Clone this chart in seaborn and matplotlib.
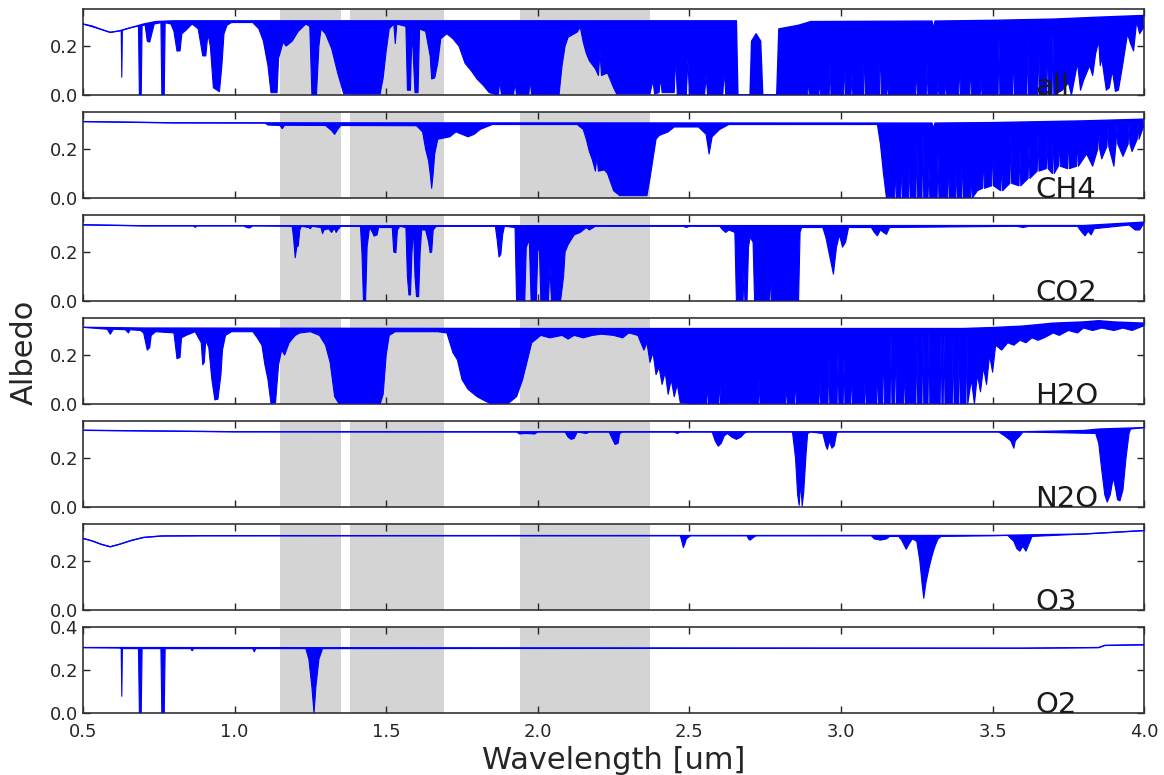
import matplotlib
matplotlib.use('Agg')
import matplotlib.pyplot as plt
import seaborn as sns
from matplotlib.ticker import FormatStrFormatter

# panel names, top to bottom
gases = ['all', 'CH4', 'CO2', 'H2O', 'N2O', 'O3', 'O2']

# grey wavelength windows [um]
bands = [(1.15, 1.35), (1.38, 1.69), (1.94, 2.37)]

xticks = [0.5, 1.0, 1.5, 2.0, 2.5, 3.0, 3.5, 4.0]

# spectra as (wavelength, albedo):
# *_up = upper envelope (top of the blue), *_lo = lower envelope (bottom of the blue)

all_up = [(0.50, 0.290), (0.53, 0.282), (0.56, 0.268), (0.59, 0.256), (0.62, 0.262), (0.66, 0.276),
          (0.70, 0.290), (0.74, 0.300), (0.80, 0.303), (2.655, 0.303), (2.66, 0.0), (2.70, 0.0),
          (2.705, 0.22), (2.72, 0.25), (2.735, 0.22), (2.742, 0.0), (2.788, 0.0), (2.795, 0.27),
          (2.86, 0.285), (2.90, 0.300), (3.30, 0.302), (3.305, 0.27), (3.31, 0.302), (3.50, 0.305),
          (3.70, 0.310), (3.85, 0.318), (4.00, 0.325)]
all_lo = [(0.50, 0.290), (0.56, 0.268), (0.59, 0.256), (0.62, 0.262), (0.626, 0.264), (0.628, 0.073),
          (0.630, 0.265), (0.66, 0.276), (0.683, 0.282), (0.686, 0.0), (0.692, 0.0), (0.695, 0.284),
          (0.705, 0.285), (0.712, 0.22), (0.72, 0.216), (0.726, 0.245), (0.735, 0.29), (0.757, 0.295),
          (0.760, 0.0), (0.768, 0.0), (0.771, 0.295), (0.79, 0.29), (0.80, 0.26), (0.81, 0.18),
          (0.82, 0.18), (0.826, 0.25), (0.84, 0.265), (0.86, 0.29), (0.88, 0.27), (0.895, 0.16),
          (0.905, 0.16), (0.912, 0.25), (0.92, 0.20), (0.93, 0.03), (0.95, 0.014), (0.958, 0.12),
          (0.965, 0.25), (0.975, 0.285), (0.99, 0.296), (1.06, 0.296), (1.08, 0.27), (1.095, 0.22),
          (1.11, 0.12), (1.12, 0.01), (1.14, 0.01), (1.145, 0.15), (1.16, 0.216), (1.17, 0.20),
          (1.19, 0.22), (1.21, 0.26), (1.235, 0.29), (1.248, 0.28), (1.255, 0.0), (1.27, 0.0),
          (1.278, 0.2), (1.285, 0.27), (1.30, 0.25), (1.32, 0.19), (1.34, 0.09), (1.36, 0.005),
          (1.48, 0.005), (1.49, 0.07), (1.50, 0.18), (1.51, 0.27), (1.525, 0.29), (1.53, 0.21),
          (1.535, 0.29), (1.565, 0.28), (1.57, 0.02), (1.58, 0.02), (1.585, 0.27), (1.595, 0.01),
          (1.605, 0.01), (1.61, 0.27), (1.63, 0.26), (1.645, 0.16), (1.65, 0.066), (1.66, 0.07),
          (1.67, 0.13), (1.68, 0.23), (1.70, 0.25), (1.72, 0.23), (1.74, 0.20), (1.76, 0.13),
          (1.78, 0.10), (1.80, 0.065), (1.82, 0.04), (1.84, 0.01), (1.87, 0.0), (1.875, 0.06),
          (1.88, 0.0), (1.92, 0.0), (1.925, 0.05), (1.93, 0.0), (1.97, 0.0), (1.975, 0.06),
          (1.98, 0.0), (2.07, 0.0), (2.08, 0.12), (2.09, 0.20), (2.10, 0.236), (2.13, 0.257),
          (2.14, 0.278), (2.15, 0.215), (2.16, 0.17), (2.17, 0.14), (2.19, 0.107), (2.20, 0.08),
          (2.205, 0.18), (2.21, 0.08), (2.23, 0.09), (2.25, 0.03), (2.26, 0.005), (2.37, 0.005),
          (2.38, 0.06), (2.385, 0.005), (2.40, 0.01), (2.405, 0.07), (2.41, 0.01), (2.45, 0.01),
          (2.455, 0.16), (2.46, 0.0), (2.49, 0.0), (2.495, 0.15), (2.50, 0.0), (2.55, 0.0),
          (2.555, 0.08), (2.56, 0.0), (2.61, 0.0), (2.615, 0.10), (2.62, 0.0), (2.89, 0.0),
          (2.893, 0.078), (2.896, 0.0), (2.926, 0.0), (2.929, 0.065), (2.932, 0.0), (2.961, 0.0),
          (2.964, 0.13), (2.967, 0.0), (3.009, 0.0), (3.012, 0.16), (3.015, 0.0), (3.033, 0.0),
          (3.036, 0.09), (3.039, 0.0), (3.074, 0.0), (3.077, 0.227), (3.080, 0.0), (3.127, 0.0),
          (3.130, 0.267), (3.133, 0.0), (3.151, 0.0), (3.154, 0.065), (3.157, 0.0), (3.246, 0.0),
          (3.249, 0.13), (3.252, 0.0), (3.281, 0.0), (3.284, 0.13), (3.287, 0.0), (3.317, 0.0),
          (3.320, 0.05), (3.323, 0.0), (3.341, 0.0), (3.344, 0.065), (3.347, 0.0), (3.388, 0.0),
          (3.391, 0.16), (3.394, 0.0), (3.424, 0.0), (3.427, 0.153), (3.430, 0.0), (3.459, 0.0),
          (3.462, 0.065), (3.465, 0.0), (3.518, 0.0), (3.521, 0.24), (3.524, 0.0), (3.566, 0.0),
          (3.569, 0.21), (3.572, 0.0), (3.613, 0.0), (3.616, 0.24), (3.619, 0.0), (3.649, 0.0),
          (3.652, 0.267), (3.655, 0.0), (3.678, 0.0), (3.681, 0.28), (3.684, 0.0), (3.696, 0.0),
          (3.699, 0.254), (3.702, 0.0), (3.73, 0.02), (3.75, 0.05), (3.76, 0.0), (3.78, 0.13),
          (3.79, 0.02), (3.80, 0.06), (3.82, 0.12), (3.83, 0.08), (3.84, 0.17), (3.85, 0.22),
          (3.855, 0.12), (3.86, 0.15), (3.875, 0.02), (3.885, 0.03), (3.895, 0.10), (3.905, 0.015),
          (3.915, 0.02), (3.93, 0.13), (3.945, 0.25), (3.955, 0.21), (3.965, 0.18), (3.975, 0.30),
          (3.985, 0.25), (4.00, 0.28)]

ch4_up = [(0.50, 0.312), (0.80, 0.307), (3.30, 0.306), (3.305, 0.28), (3.31, 0.306), (3.50, 0.308),
          (3.80, 0.315), (4.00, 0.322)]
ch4_lo = [(0.50, 0.312), (0.80, 0.307), (1.10, 0.306), (1.11, 0.298), (1.15, 0.296), (1.157, 0.283),
          (1.165, 0.297), (1.30, 0.296), (1.32, 0.275), (1.33, 0.26), (1.34, 0.28), (1.35, 0.296),
          (1.60, 0.295), (1.62, 0.27), (1.63, 0.20), (1.64, 0.15), (1.645, 0.10), (1.65, 0.04),
          (1.655, 0.10), (1.66, 0.18), (1.67, 0.24), (1.69, 0.245), (1.71, 0.25), (1.73, 0.27),
          (1.75, 0.26), (1.77, 0.25), (1.79, 0.26), (1.81, 0.28), (1.83, 0.29), (1.85, 0.30),
          (2.13, 0.30), (2.15, 0.28), (2.16, 0.24), (2.17, 0.19), (2.18, 0.156), (2.19, 0.11),
          (2.195, 0.17), (2.20, 0.11), (2.22, 0.115), (2.23, 0.10), (2.25, 0.03), (2.27, 0.01),
          (2.36, 0.01), (2.37, 0.08), (2.38, 0.16), (2.39, 0.24), (2.40, 0.255), (2.43, 0.27),
          (2.45, 0.29), (2.53, 0.29), (2.555, 0.26), (2.565, 0.18), (2.575, 0.25), (2.60, 0.28),
          (2.63, 0.30), (3.12, 0.30), (3.13, 0.22), (3.14, 0.10), (3.15, 0.0), (3.177, 0.0),
          (3.18, 0.14), (3.183, 0.0), (3.197, 0.0), (3.20, 0.17), (3.203, 0.0), (3.222, 0.0),
          (3.225, 0.17), (3.228, 0.0), (3.247, 0.0), (3.25, 0.24), (3.253, 0.0), (3.267, 0.0),
          (3.27, 0.26), (3.273, 0.0), (3.287, 0.0), (3.29, 0.13), (3.293, 0.0), (3.317, 0.0),
          (3.32, 0.18), (3.323, 0.0), (3.352, 0.0), (3.355, 0.17), (3.358, 0.0), (3.377, 0.0),
          (3.38, 0.14), (3.383, 0.0), (3.397, 0.0), (3.40, 0.20), (3.403, 0.0), (3.427, 0.0),
          (3.43, 0.10), (3.433, 0.0), (3.45, 0.03), (3.467, 0.04), (3.47, 0.20), (3.473, 0.04),
          (3.497, 0.05), (3.50, 0.24), (3.503, 0.05), (3.527, 0.03), (3.53, 0.15), (3.533, 0.03),
          (3.557, 0.06), (3.56, 0.26), (3.563, 0.06), (3.587, 0.05), (3.59, 0.20), (3.593, 0.05),
          (3.617, 0.08), (3.62, 0.22), (3.623, 0.08), (3.647, 0.11), (3.65, 0.27), (3.653, 0.11),
          (3.677, 0.12), (3.68, 0.24), (3.683, 0.12), (3.697, 0.10), (3.70, 0.28), (3.703, 0.10),
          (3.717, 0.13), (3.72, 0.25), (3.723, 0.13), (3.747, 0.12), (3.75, 0.28), (3.753, 0.12),
          (3.777, 0.13), (3.78, 0.26), (3.783, 0.13), (3.81, 0.18), (3.83, 0.13), (3.847, 0.20),
          (3.85, 0.29), (3.853, 0.20), (3.86, 0.16), (3.877, 0.21), (3.88, 0.29), (3.883, 0.21),
          (3.90, 0.13), (3.907, 0.22), (3.91, 0.30), (3.913, 0.22), (3.93, 0.17), (3.947, 0.22),
          (3.95, 0.30), (3.953, 0.22), (3.96, 0.19), (3.977, 0.24), (3.98, 0.31), (3.983, 0.24),
          (4.00, 0.30)]

co2_up = [(0.50, 0.311), (0.70, 0.307), (3.80, 0.308), (4.00, 0.322)]
co2_lo = [(0.50, 0.311), (0.70, 0.307), (0.865, 0.307), (0.87, 0.300), (0.875, 0.307), (1.03, 0.307),
          (1.04, 0.300), (1.05, 0.298), (1.06, 0.307), (1.19, 0.305), (1.195, 0.25), (1.20, 0.177),
          (1.205, 0.22), (1.21, 0.225), (1.215, 0.29), (1.22, 0.305), (1.245, 0.30), (1.25, 0.295),
          (1.255, 0.305), (1.285, 0.30), (1.29, 0.275), (1.295, 0.29), (1.31, 0.295), (1.32, 0.28),
          (1.325, 0.29), (1.33, 0.295), (1.335, 0.28), (1.34, 0.29), (1.35, 0.305), (1.415, 0.305),
          (1.42, 0.20), (1.425, 0.0), (1.432, 0.0), (1.437, 0.22), (1.445, 0.30), (1.455, 0.28),
          (1.46, 0.265), (1.47, 0.27), (1.475, 0.30), (1.52, 0.30), (1.525, 0.20), (1.532, 0.197),
          (1.537, 0.29), (1.545, 0.305), (1.565, 0.30), (1.57, 0.10), (1.575, 0.025), (1.58, 0.025),
          (1.585, 0.20), (1.59, 0.30), (1.595, 0.10), (1.60, 0.018), (1.607, 0.018), (1.612, 0.20),
          (1.617, 0.29), (1.63, 0.29), (1.64, 0.24), (1.645, 0.197), (1.65, 0.20), (1.655, 0.29),
          (1.665, 0.305), (1.86, 0.305), (1.866, 0.25), (1.872, 0.18), (1.878, 0.19), (1.884, 0.27),
          (1.89, 0.305), (1.925, 0.30), (1.93, 0.0), (1.957, 0.0), (1.962, 0.22), (1.972, 0.25),
          (1.978, 0.0), (1.995, 0.0), (2.0, 0.20), (2.005, 0.23), (2.01, 0.0), (2.035, 0.0),
          (2.04, 0.14), (2.045, 0.0), (2.075, 0.0), (2.085, 0.10), (2.09, 0.20), (2.10, 0.23),
          (2.12, 0.27), (2.14, 0.28), (2.16, 0.30), (2.17, 0.29), (2.19, 0.305), (2.48, 0.305),
          (2.49, 0.30), (2.50, 0.305), (2.60, 0.305), (2.61, 0.29), (2.62, 0.28), (2.63, 0.29),
          (2.64, 0.285), (2.65, 0.28), (2.655, 0.0), (2.677, 0.0), (2.68, 0.12), (2.683, 0.0),
          (2.69, 0.0), (2.695, 0.22), (2.70, 0.26), (2.71, 0.24), (2.715, 0.0), (2.765, 0.0),
          (2.768, 0.13), (2.771, 0.0), (2.86, 0.0), (2.865, 0.28), (2.87, 0.30), (2.94, 0.30),
          (2.95, 0.26), (2.96, 0.20), (2.975, 0.11), (2.985, 0.22), (2.995, 0.27), (3.005, 0.22),
          (3.015, 0.24), (3.025, 0.30), (3.10, 0.30), (3.11, 0.28), (3.12, 0.266), (3.13, 0.29),
          (3.14, 0.28), (3.15, 0.272), (3.16, 0.30), (3.58, 0.305), (3.60, 0.30), (3.62, 0.305),
          (3.78, 0.305), (3.795, 0.28), (3.805, 0.266), (3.815, 0.285), (3.825, 0.27), (3.835, 0.295),
          (3.95, 0.31), (3.97, 0.29), (3.985, 0.29), (4.00, 0.32)]

h2o_up = [(0.50, 0.313), (0.70, 0.310), (2.00, 0.308), (3.40, 0.308), (3.50, 0.312), (3.60, 0.318),
          (3.70, 0.330), (3.80, 0.335), (3.85, 0.340), (3.90, 0.335), (4.00, 0.330)]
h2o_lo = [(0.50, 0.313), (0.58, 0.305), (0.59, 0.285), (0.60, 0.305), (0.64, 0.303), (0.65, 0.29),
          (0.655, 0.303), (0.69, 0.30), (0.70, 0.29), (0.712, 0.22), (0.72, 0.23), (0.725, 0.28),
          (0.74, 0.295), (0.80, 0.29), (0.81, 0.185), (0.82, 0.19), (0.825, 0.27), (0.84, 0.28),
          (0.87, 0.295), (0.89, 0.25), (0.895, 0.16), (0.90, 0.17), (0.905, 0.26), (0.915, 0.23),
          (0.925, 0.10), (0.935, 0.017), (0.945, 0.02), (0.955, 0.12), (0.96, 0.22), (0.97, 0.28),
          (0.99, 0.295), (1.06, 0.295), (1.075, 0.27), (1.09, 0.24), (1.10, 0.16), (1.11, 0.10),
          (1.12, 0.003), (1.135, 0.005), (1.145, 0.16), (1.155, 0.22), (1.165, 0.20), (1.18, 0.25),
          (1.20, 0.28), (1.215, 0.29), (1.25, 0.295), (1.28, 0.28), (1.30, 0.24), (1.315, 0.17),
          (1.33, 0.03), (1.345, 0.0), (1.48, 0.0), (1.49, 0.04), (1.50, 0.2), (1.51, 0.28),
          (1.53, 0.295), (1.67, 0.295), (1.70, 0.29), (1.72, 0.21), (1.735, 0.18), (1.75, 0.10),
          (1.77, 0.06), (1.80, 0.03), (1.83, 0.01), (1.85, 0.0), (1.90, 0.0), (1.93, 0.03),
          (1.95, 0.10), (1.97, 0.20), (1.98, 0.25), (2.01, 0.28), (2.04, 0.27), (2.08, 0.28),
          (2.10, 0.265), (2.12, 0.28), (2.15, 0.27), (2.18, 0.28), (2.21, 0.285), (2.25, 0.28),
          (2.28, 0.27), (2.30, 0.29), (2.33, 0.28), (2.35, 0.22), (2.36, 0.25), (2.37, 0.17),
          (2.38, 0.21), (2.39, 0.12), (2.40, 0.15), (2.41, 0.08), (2.42, 0.13), (2.43, 0.04),
          (2.44, 0.10), (2.45, 0.03), (2.46, 0.08), (2.47, 0.005), (2.557, 0.0), (2.56, 0.10),
          (2.563, 0.0), (2.597, 0.0), (2.60, 0.113), (2.603, 0.0), (2.727, 0.0), (2.73, 0.10),
          (2.733, 0.0), (2.817, 0.0), (2.82, 0.085), (2.823, 0.0), (2.847, 0.0), (2.85, 0.127),
          (2.853, 0.0), (2.927, 0.0), (2.93, 0.113), (2.933, 0.0), (2.957, 0.0), (2.96, 0.196),
          (2.963, 0.0), (2.987, 0.0), (2.99, 0.21), (2.993, 0.0), (3.007, 0.0), (3.01, 0.196),
          (3.013, 0.0), (3.032, 0.0), (3.035, 0.155), (3.038, 0.0), (3.077, 0.0), (3.08, 0.127),
          (3.083, 0.0), (3.117, 0.0), (3.12, 0.168), (3.123, 0.0), (3.137, 0.0), (3.14, 0.29),
          (3.143, 0.0), (3.162, 0.0), (3.165, 0.29), (3.168, 0.0), (3.177, 0.0), (3.18, 0.29),
          (3.183, 0.0), (3.207, 0.0), (3.21, 0.168), (3.213, 0.0), (3.247, 0.0), (3.25, 0.29),
          (3.253, 0.0), (3.267, 0.0), (3.27, 0.30), (3.273, 0.0), (3.287, 0.0), (3.29, 0.30),
          (3.293, 0.0), (3.327, 0.0), (3.33, 0.30), (3.333, 0.0), (3.337, 0.0), (3.34, 0.29),
          (3.343, 0.0), (3.367, 0.0), (3.37, 0.29), (3.373, 0.0), (3.387, 0.0), (3.39, 0.29),
          (3.393, 0.0), (3.412, 0.0), (3.415, 0.30), (3.418, 0.0), (3.43, 0.10), (3.44, 0.0),
          (3.45, 0.12), (3.46, 0.05), (3.47, 0.15), (3.48, 0.08), (3.49, 0.20), (3.50, 0.13),
          (3.51, 0.24), (3.53, 0.22), (3.55, 0.25), (3.57, 0.24), (3.59, 0.26), (3.61, 0.25),
          (3.63, 0.27), (3.65, 0.26), (3.67, 0.27), (3.70, 0.29), (3.72, 0.28), (3.75, 0.30),
          (3.78, 0.29), (3.80, 0.31), (3.83, 0.30), (3.86, 0.31), (3.90, 0.30), (3.93, 0.31),
          (3.96, 0.30), (4.00, 0.32)]

n2o_up = [(0.50, 0.313), (1.00, 0.307), (3.60, 0.307), (3.80, 0.312), (3.85, 0.318), (4.00, 0.324)]
n2o_lo = [(0.50, 0.313), (1.00, 0.307), (1.93, 0.306), (1.94, 0.298), (1.96, 0.30), (1.99, 0.298),
          (2.00, 0.306), (2.09, 0.306), (2.10, 0.285), (2.11, 0.276), (2.12, 0.28), (2.13, 0.306),
          (2.16, 0.30), (2.17, 0.306), (2.235, 0.306), (2.245, 0.28), (2.255, 0.255), (2.265, 0.26),
          (2.27, 0.30), (2.28, 0.306), (2.45, 0.306), (2.46, 0.30), (2.47, 0.306), (2.575, 0.306),
          (2.585, 0.27), (2.595, 0.248), (2.605, 0.26), (2.615, 0.29), (2.625, 0.30), (2.64, 0.285),
          (2.655, 0.276), (2.67, 0.285), (2.68, 0.30), (2.69, 0.306), (2.84, 0.306), (2.85, 0.20),
          (2.857, 0.05), (2.862, 0.007), (2.867, 0.10), (2.872, 0.005), (2.877, 0.06), (2.885, 0.22),
          (2.89, 0.30), (2.90, 0.306), (2.94, 0.30), (2.95, 0.25), (2.955, 0.235), (2.962, 0.27),
          (2.97, 0.24), (2.978, 0.25), (2.985, 0.30), (2.99, 0.306), (3.52, 0.306), (3.54, 0.29),
          (3.56, 0.27), (3.57, 0.24), (3.575, 0.27), (3.59, 0.29), (3.60, 0.306), (3.84, 0.30),
          (3.85, 0.26), (3.86, 0.15), (3.87, 0.05), (3.878, 0.02), (3.888, 0.05), (3.898, 0.12),
          (3.905, 0.08), (3.912, 0.03), (3.92, 0.025), (3.93, 0.07), (3.94, 0.20), (3.95, 0.30),
          (3.955, 0.318), (4.00, 0.324)]

o3_up = [(0.50, 0.292), (0.53, 0.282), (0.56, 0.268), (0.59, 0.258), (0.62, 0.268), (0.66, 0.284),
         (0.70, 0.296), (0.76, 0.302), (0.90, 0.303), (3.50, 0.304), (3.80, 0.310), (4.00, 0.324)]
o3_lo = [(0.50, 0.292), (0.53, 0.282), (0.56, 0.268), (0.59, 0.258), (0.62, 0.268), (0.66, 0.284),
         (0.70, 0.296), (0.76, 0.302), (0.90, 0.303), (2.47, 0.303), (2.475, 0.28), (2.48, 0.255),
         (2.485, 0.27), (2.49, 0.29), (2.50, 0.30), (2.505, 0.303), (2.69, 0.303), (2.695, 0.29),
         (2.70, 0.285), (2.71, 0.295), (2.72, 0.303), (3.10, 0.303), (3.11, 0.29), (3.13, 0.285),
         (3.15, 0.29), (3.16, 0.30), (3.19, 0.30), (3.20, 0.285), (3.215, 0.248), (3.225, 0.27),
         (3.235, 0.29), (3.25, 0.28), (3.26, 0.20), (3.268, 0.10), (3.273, 0.048), (3.28, 0.11),
         (3.29, 0.17), (3.30, 0.22), (3.31, 0.26), (3.32, 0.29), (3.33, 0.30), (3.55, 0.304),
         (3.57, 0.28), (3.58, 0.25), (3.59, 0.24), (3.60, 0.26), (3.61, 0.24), (3.62, 0.27),
         (3.63, 0.30), (3.80, 0.310), (4.00, 0.324)]

o2_up = [(0.50, 0.305), (3.60, 0.302), (3.85, 0.305), (3.87, 0.315), (4.00, 0.318)]
o2_lo = [(0.50, 0.305), (0.62, 0.303), (0.626, 0.30), (0.628, 0.078), (0.630, 0.30), (0.683, 0.30),
         (0.686, 0.0), (0.692, 0.0), (0.695, 0.30), (0.757, 0.30), (0.760, 0.0), (0.768, 0.0),
         (0.771, 0.30), (0.855, 0.30), (0.86, 0.29), (0.865, 0.30), (1.06, 0.30), (1.065, 0.285),
         (1.07, 0.30), (1.235, 0.30), (1.245, 0.25), (1.255, 0.12), (1.262, 0.0), (1.268, 0.12),
         (1.278, 0.25), (1.29, 0.30), (3.60, 0.302), (3.85, 0.305), (3.87, 0.315), (4.00, 0.318)]

spectra = {
    'all': (all_up, all_lo), 'CH4': (ch4_up, ch4_lo), 'CO2': (co2_up, co2_lo),
    'H2O': (h2o_up, h2o_lo), 'N2O': (n2o_up, n2o_lo), 'O3': (o3_up, o3_lo), 'O2': (o2_up, o2_lo),
}

blue = '#0000ff'

sns.set_theme(style='ticks')
plt.rcParams['font.family'] = ['DejaVu Sans']

fig, axes = plt.subplots(7, 1, figsize=(11.64, 7.75), dpi=100, sharex=True)
fig.subplots_adjust(left=0.0713, right=0.983, top=0.988, bottom=0.08, hspace=0.2)

for ax, name in zip(axes, gases):
    up, lo = spectra[name]
    ux, uy = zip(*up)
    lx, ly = zip(*lo)

    for a, b in bands:
        ax.axvspan(a, b, color='#d4d4d4', lw=0, zorder=0)

    # blue area between the two envelopes
    ax.fill(list(ux) + list(lx)[::-1], list(uy) + list(ly)[::-1], color=blue, lw=0, zorder=2)
    sns.lineplot(x=list(ux), y=list(uy), sort=False, estimator=None, color=blue, lw=1, ax=ax, zorder=3)
    sns.lineplot(x=list(lx), y=list(ly), sort=False, estimator=None, color=blue, lw=0.8, ax=ax, zorder=3)

    ax.set_xlim(0.5, 4.0)
    if name == 'O2':
        ax.set_ylim(0, 0.4)
        ax.set_yticks([0.0, 0.2, 0.4])
    else:
        ax.set_ylim(0, 0.35)
        ax.set_yticks([0.0, 0.2])
    ax.set_xticks(xticks)
    ax.yaxis.set_major_formatter(FormatStrFormatter('%.1f'))
    ax.xaxis.set_major_formatter(FormatStrFormatter('%.1f'))
    ax.tick_params(direction='in', top=True, right=True, length=5, width=1,
                   labelsize=13, colors='0.15')
    ax.tick_params(axis='x', pad=7)
    for s in ax.spines.values():
        s.set_color('0.2')
        s.set_linewidth(1.2)
    ax.set_ylabel('')
    ax.text(3.64, 0.0, name, fontsize=21, color='0.1')

axes[-1].set_xlabel('Wavelength [um]', fontsize=22, labelpad=4)
fig.text(0.008, 0.545, 'Albedo', rotation=90, va='center', fontsize=22)

plt.savefig('out.png', dpi=100)
plt.close()
